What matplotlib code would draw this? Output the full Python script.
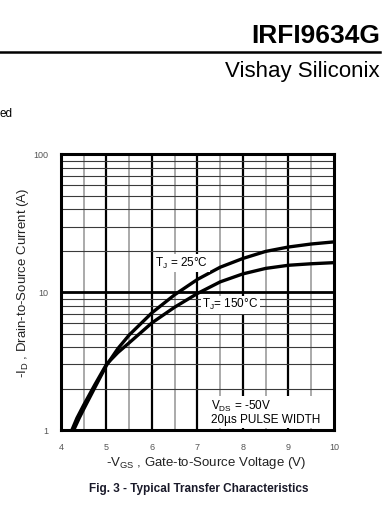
import numpy as np
import matplotlib
matplotlib.use('Agg')
import matplotlib.pyplot as plt

plt.rcParams['font.family'] = ['Liberation Sans', 'DejaVu Sans']
plt.rcParams['mathtext.fontset'] = 'custom'
plt.rcParams['mathtext.rm'] = 'Liberation Sans'

# data
vgs_25 = [4.28, 4.4, 4.5, 4.75, 5.0, 5.25, 5.5, 6.0, 6.5, 7.0, 7.5, 8.0, 8.5, 9.0, 9.5, 10.0]
id_25 = [1.0, 1.22, 1.42, 2.05, 2.95, 3.9, 4.9, 7.1, 9.6, 12.4, 15.2, 17.6, 19.8, 21.3, 22.4, 23.2]
vgs_150 = [4.24, 4.35, 4.5, 4.75, 5.0, 5.25, 5.5, 6.0, 6.5, 7.0, 7.5, 8.0, 8.5, 9.0, 9.5, 10.0]
id_150 = [1.0, 1.22, 1.52, 2.15, 3.0, 3.65, 4.3, 6.0, 7.8, 9.8, 11.9, 13.6, 14.9, 15.7, 16.1, 16.4]

x_ticks = [4, 5, 6, 7, 8, 9, 10]
y_ticks = [1, 10, 100]
y_tick_labels = ['1', '10', '100']

fig = plt.figure(figsize=(3.87, 5.08), dpi=100)
ax = fig.add_axes([0.1576, 0.1535, 0.863 - 0.1576, 0.6959 - 0.1535])

ax.set_yscale('log')
ax.set_xlim(4, 10)
ax.set_ylim(1, 100)

# grid
for v in np.arange(4.5, 10, 1.0):
    ax.axvline(v, color='#aaaaaa', lw=1.4, zorder=1)
for v in [5, 6, 7, 8, 9]:
    ax.axvline(v, color='black', lw=1.6, zorder=1)
for dec in [1, 10]:
    for m in range(2, 10):
        ax.axhline(dec * m, color='#3a3a3a', lw=0.8, zorder=1)
ax.axhline(10, color='black', lw=2.0, zorder=1)

ax.plot(vgs_25, id_25, color='black', lw=2.4, solid_capstyle='butt',
        solid_joinstyle='round', zorder=3)
ax.plot(vgs_150, id_150, color='black', lw=2.4, solid_capstyle='butt',
        solid_joinstyle='round', zorder=3)

box = dict(facecolor='white', edgecolor='none', pad=1.0)
ax.text(6.07, 16.3, r'T$_\mathregular{J}$ = 25°C', fontsize=8.5, va='center', ha='left',
        bbox=box, zorder=4)
ax.text(7.1, 8.1, r'T$_\mathregular{J}$= 150°C', fontsize=8.5, va='center', ha='left',
        bbox=box, zorder=4)
ax.text(7.3, 1.07, 'V$_\\mathregular{DS}$ = -50V\n20µs PULSE WIDTH', fontsize=8.5,
        va='bottom', ha='left', linespacing=1.0,
        bbox=dict(facecolor='white', edgecolor='none', pad=1.5), zorder=4)

ax.set_xticks(x_ticks)
ax.set_xticklabels([str(t) for t in x_ticks])
ax.set_yticks(y_ticks)
ax.set_yticklabels(y_tick_labels)
ax.yaxis.set_minor_locator(matplotlib.ticker.NullLocator())
ax.tick_params(length=0, labelsize=6.5, labelcolor='#555555')
ax.tick_params(axis='x', pad=9)
ax.tick_params(axis='y', pad=9)

for s in ax.spines.values():
    s.set_linewidth(2.2)
    s.set_zorder(5)

fig.text(0.059, 0.443, r'-I$_\mathregular{D}$ , Drain-to-Source Current (A)',
         rotation=90, ha='center', va='center', fontsize=9.5, color='#222222')
fig.text(0.532, 0.0886, r'-V$_\mathregular{GS}$ , Gate-to-Source Voltage (V)',
         ha='center', va='center', fontsize=9.5, color='#222222')
fig.text(0.514, 0.0374, 'Fig. 3 - Typical Transfer Characteristics',
         ha='center', va='center', fontsize=8.5, fontweight='bold', color='#1a1a2a')

# header
fig.text(0.982, 0.9154, 'IRFI9634G', ha='right', va='baseline', fontsize=19,
         fontweight='bold')
fig.add_artist(plt.Line2D([0, 0.982], [0.8976, 0.8976], color='black', lw=1.8))
fig.text(0.982, 0.848, 'Vishay Siliconix', ha='right', va='baseline', fontsize=16)
fig.text(0.0, 0.7697, 'ed', ha='left', va='baseline', fontsize=8.5)

fig.savefig('out.png', dpi=100)
